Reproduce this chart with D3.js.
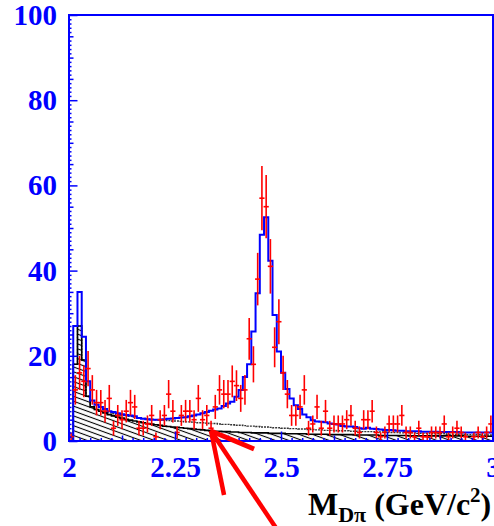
<!DOCTYPE html>
<html>
<head>
<meta charset="utf-8">
<script src="https://cdn.jsdelivr.net/npm/d3@7"></script>
<style>
  html, body { margin: 0; padding: 0; background: #fff; }
  svg { display: block; }
</style>
</head>
<body>
<svg id="chart" width="494" height="526"></svg>
<script>
// 100 bins of 10 MeV between 2.0 and 3.0 GeV/c^2
const binLow = 2.0;
const binWidth = 0.01;

const dataCounts = [
  1, 12, 16, 14, 17, 12, 9, 9, 7, 10,
  3, 6, 5, 7, 9, 8, 3, 3, 4, 6,
  1, 5, 6, 11, 7, 2, 6, 7, 7, 5,
  10, 5, 6, 3, 8, 12, 11, 11, 14, 13,
  10, 12, 24, 18, 38, 57, 55, 41, 22, 28,
  16, 11, 6, 6, 8, 12, 3, 4, 8, 3,
  7, 3, 4, 4, 4, 5, 6, 3, 2, 5,
  5, 7, 2, 1, 2, 4, 4, 4, 6, 2,
  2, 1, 3, 1, 1, 2, 2, 2, 4, 1,
  2, 3, 2, 1, 0, 1, 2, 1, 2, 4
];

const totalFit = [
  0, 27, 35, 24.5, 14, 9.5, 8.5, 8, 7.5, 7,
  6.8, 6.5, 6.3, 6.1, 6, 5.8, 5.4, 5.2, 5.1, 5.0,
  5.0, 5.0, 5.1, 5.2, 5.3, 5.4, 5.5, 5.6, 5.8, 6.0,
  6.2, 6.5, 6.8, 7.1, 7.4, 7.6, 8.2, 8.8, 9.2, 10.4,
  12, 15, 18, 25.7, 34.7, 48.4, 52.5, 42.3, 29.6, 21,
  16, 12.2, 10, 8.4, 7.5, 6.2, 5.6, 4.9, 4.6, 4.5,
  4.4, 4.1, 4.0, 3.9, 3.5, 3.4, 3.4, 3.3, 3.0, 2.9,
  3.1, 2.9, 2.8, 2.7, 2.6, 2.6, 2.5, 2.4, 2.4, 2.3,
  2.3, 2.3, 2.3, 2.2, 2.2, 2.2, 2.2, 2.1, 2.1, 2.1,
  2.1, 2.1, 2.0, 2.0, 2.0, 2.0, 2.0, 2.0, 2.0, 2.0
];

const bkgTotal = [
  0, 18, 27, 19, 10.5, 8.0, 7.4, 7.0, 6.8, 6.6,
  6.4, 6.2, 6.1, 6.0, 5.8, 5.6, 5.4, 5.3, 5.2, 5.1,
  5.0, 4.9, 4.9, 4.8, 4.7, 4.7, 4.6, 4.5, 4.5, 4.4,
  4.3, 4.3, 4.2, 4.1, 4.1, 4.0, 3.9, 3.9, 3.8, 3.7,
  3.7, 3.6, 3.5, 3.5, 3.4, 3.3, 3.3, 3.2, 3.1, 3.1,
  3.0, 3.0, 2.9, 2.9, 2.8, 2.8, 2.7, 2.7, 2.6, 2.6,
  2.5, 2.5, 2.5, 2.4, 2.4, 2.4, 2.3, 2.3, 2.3, 2.2,
  2.2, 2.2, 2.1, 2.1, 2.1, 2.0, 2.0, 2.0, 1.9, 1.9,
  1.9, 1.9, 1.8, 1.8, 1.8, 1.7, 1.7, 1.7, 1.7, 1.6,
  1.6, 1.6, 1.6, 1.5, 1.5, 1.5, 1.5, 1.4, 1.4, 1.4
];

const bkgHatched = [
  0, 18, 27, 19, 10.5, 8.0, 7.4, 7.0, 6.6, 6.2,
  5.9, 5.6, 5.4, 5.1, 4.9, 4.7, 4.5, 4.3, 4.1, 4.0,
  3.8, 3.7, 3.5, 3.4, 3.3, 3.2, 3.1, 3.0, 2.9, 2.8,
  2.7, 2.6, 2.5, 2.4, 2.3, 2.3, 2.2, 2.2, 2.1, 2.1,
  2.0, 2.0, 2.0, 1.9, 1.9, 1.9, 1.9, 1.8, 1.8, 1.8,
  1.8, 1.7, 1.7, 1.7, 1.7, 1.7, 1.6, 1.6, 1.6, 1.6,
  1.6, 1.5, 1.5, 1.5, 1.5, 1.5, 1.5, 1.4, 1.4, 1.4,
  1.4, 1.4, 1.4, 1.3, 1.3, 1.3, 1.3, 1.3, 1.3, 1.3,
  1.2, 1.2, 1.2, 1.2, 1.2, 1.2, 1.2, 1.2, 1.2, 1.2,
  1.2, 1.2, 1.2, 1.1, 1.1, 1.1, 1.1, 1.1, 1.1, 1.1
];

const xTickValues = [2, 2.25, 2.5, 2.75, 3];
const xTickLabels = ['2', '2.25', '2.5', '2.75', '3'];
const yTickValues = [0, 20, 40, 60, 80, 100];
const yTickLabels = ['0', '20', '40', '60', '80', '100'];

const svg = d3.select('#chart');
const plot = { left: 69, right: 493, top: 15, bottom: 441 };

const x = d3.scaleLinear().domain([2, 3]).range([plot.left, plot.right]);
const y = d3.scaleLinear().domain([0, 100]).range([plot.bottom, plot.top]);

const defs = svg.append('defs');
defs.append('clipPath').attr('id', 'plot-clip')
  .append('rect')
  .attr('x', plot.left).attr('y', plot.top)
  .attr('width', plot.right - plot.left).attr('height', plot.bottom - plot.top);

const hatch = defs.append('pattern')
  .attr('id', 'hatch')
  .attr('patternUnits', 'userSpaceOnUse')
  .attr('width', 12).attr('height', 4.6)
  .attr('patternTransform', 'rotate(20)');
hatch.append('line')
  .attr('x1', 0).attr('y1', 2.3).attr('x2', 12).attr('y2', 2.3)
  .attr('stroke', '#000').attr('stroke-width', 1.1);

// step points for a histogram
const toSteps = (values) => {
  const pts = [[binLow, 0]];
  values.forEach((v, i) => {
    pts.push([binLow + i * binWidth, v]);
    pts.push([binLow + (i + 1) * binWidth, v]);
  });
  pts.push([binLow + values.length * binWidth, 0]);
  return pts;
};

const stepLine = d3.line().x(d => x(d[0])).y(d => y(d[1]));
const stepArea = d3.area().x(d => x(d[0])).y0(y(0)).y1(d => y(d[1]));

const inner = svg.append('g').attr('clip-path', 'url(#plot-clip)');

inner.append('path')
  .datum(toSteps(bkgHatched))
  .attr('d', stepArea)
  .attr('fill', 'url(#hatch)');

inner.append('path')
  .datum(toSteps(bkgTotal))
  .attr('d', stepLine)
  .attr('fill', 'none')
  .attr('stroke', '#333')
  .attr('stroke-width', 1.4)
  .attr('stroke-dasharray', '2,1');

inner.append('path')
  .datum(toSteps(bkgHatched))
  .attr('d', stepLine)
  .attr('fill', 'none')
  .attr('stroke', '#000')
  .attr('stroke-width', 1.6);

inner.append('path')
  .datum(toSteps(totalFit))
  .attr('d', stepLine)
  .attr('fill', 'none')
  .attr('stroke', '#0000ff')
  .attr('stroke-width', 2);

// data points with sqrt(N) errors
const points = dataCounts
  .map((n, i) => ({ m: binLow + (i + 0.5) * binWidth, n }))
  .filter(d => d.n > 0);

const pts = inner.append('g').attr('class', 'data-points');
pts.selectAll('line.err')
  .data(points)
  .enter().append('line')
  .attr('class', 'err')
  .attr('x1', d => x(d.m)).attr('x2', d => x(d.m))
  .attr('y1', d => y(d.n - Math.sqrt(d.n)))
  .attr('y2', d => y(d.n + Math.sqrt(d.n)))
  .attr('stroke', '#ff0000')
  .attr('stroke-width', 1.6);
pts.selectAll('line.mark')
  .data(points)
  .enter().append('line')
  .attr('class', 'mark')
  .attr('x1', d => x(d.m) - 2.6).attr('x2', d => x(d.m) + 2.6)
  .attr('y1', d => y(d.n)).attr('y2', d => y(d.n))
  .attr('stroke', '#ff0000')
  .attr('stroke-width', 1.6);

// axes: major ticks with labels, then finer ticks
const axisFont = (g) => g
  .attr('font-family', '"Liberation Serif", "Times New Roman", serif')
  .attr('font-weight', 'bold')
  .attr('font-size', 29)
  .attr('fill', '#0000ff');

const yMinor = d3.range(0, 101, 1).filter(v => v % 5 !== 0);
const yMid = d3.range(0, 101, 5).filter(v => v % 20 !== 0);
svg.append('g')
  .attr('transform', `translate(${plot.left},0)`)
  .call(d3.axisLeft(y).tickValues(yMinor).tickSize(-2.5).tickFormat(''))
  .call(g => g.select('.domain').remove());
svg.append('g')
  .attr('transform', `translate(${plot.left},0)`)
  .call(d3.axisLeft(y).tickValues(yMid).tickSize(-4.5).tickFormat(''))
  .call(g => g.select('.domain').remove());
svg.append('g')
  .attr('transform', `translate(${plot.left},0)`)
  .call(d3.axisLeft(y).tickValues(yTickValues).tickSize(-8.5)
    .tickFormat((d, i) => yTickLabels[i]).tickPadding(12))
  .call(axisFont)
  .call(g => g.select('.domain').remove())
  .call(g => g.selectAll('text').attr('fill', '#0000ff').attr('dy', '0.33em'));

const xMinor = d3.range(0, 41).map(k => 2 + k * 0.025).filter((v, k) => k % 5 !== 0);
const xMid = [2.125, 2.375, 2.625, 2.875];
svg.append('g')
  .attr('transform', `translate(0,${plot.bottom})`)
  .call(d3.axisBottom(x).tickValues(xMinor).tickSize(-3).tickFormat(''))
  .call(g => g.select('.domain').remove());
svg.append('g')
  .attr('transform', `translate(0,${plot.bottom})`)
  .call(d3.axisBottom(x).tickValues(xMid).tickSize(-5.5).tickFormat(''))
  .call(g => g.select('.domain').remove());
svg.append('g')
  .attr('transform', `translate(0,${plot.bottom})`)
  .call(d3.axisBottom(x).tickValues(xTickValues).tickSize(-9.5)
    .tickFormat((d, i) => xTickLabels[i]))
  .call(axisFont)
  .call(g => g.select('.domain').remove())
  .call(g => g.selectAll('text').attr('fill', '#0000ff').attr('dy', null).attr('y', 36));

svg.selectAll('.tick line').attr('stroke', '#0000ff').attr('stroke-width', 1.5);

// frame
svg.append('rect')
  .attr('x', plot.left).attr('y', plot.top)
  .attr('width', plot.right - plot.left).attr('height', plot.bottom - plot.top)
  .attr('fill', 'none')
  .attr('stroke', '#0000ff')
  .attr('stroke-width', 2);

// axis title
const title = svg.append('text')
  .attr('x', 308).attr('y', 515)
  .attr('font-family', '"Liberation Serif", "Times New Roman", serif')
  .attr('font-weight', 'bold')
  .attr('font-size', 32)
  .attr('fill', '#000');
title.append('tspan').text('M');
title.append('tspan').attr('font-size', 22).attr('dy', 7).text('Dπ');
title.append('tspan').attr('dy', -7).text(' (GeV/c');
title.append('tspan').attr('font-size', 21).attr('dy', -13).text('2');
title.append('tspan').attr('dy', 13).text(')');

// red arrow annotation pointing at the background
const tip = { m: 2.335, n: 2.35 };
const arrowLegs = [[43, 18, 5], [13, 64, 4.5], [67, 100, 4.5]];
svg.append('g').attr('class', 'arrow')
  .selectAll('line')
  .data(arrowLegs)
  .enter().append('line')
  .attr('x1', x(tip.m)).attr('y1', y(tip.n))
  .attr('x2', d => x(tip.m) + d[0]).attr('y2', d => y(tip.n) + d[1])
  .attr('stroke', '#ff0000')
  .attr('stroke-width', d => d[2]);
</script>
</body>
</html>
